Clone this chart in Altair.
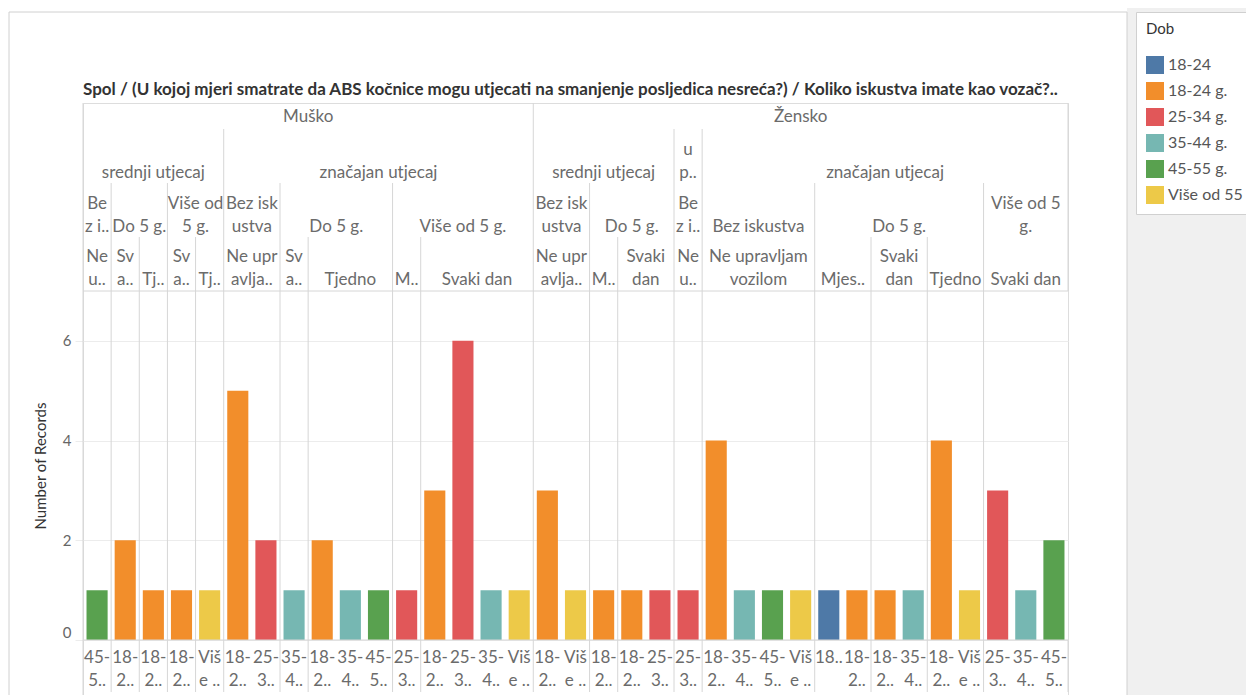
import altair as alt
import pandas as pd

# ---------------- data ----------------
SPOL = ["Muško"] * 16 + ["Žensko"] * 19
ABS = (["srednji utjecaj"] * 5 + ["značajan utjecaj"] * 11
       + ["srednji utjecaj"] * 5 + ["u potpunosti"] + ["značajan utjecaj"] * 13)
ISK = (["Bez iskustva", "Do 5 g.", "Do 5 g.", "Više od 5 g.", "Više od 5 g.",
        "Bez iskustva", "Bez iskustva", "Do 5 g.", "Do 5 g.", "Do 5 g.", "Do 5 g.",
        "Više od 5 g.", "Više od 5 g.", "Više od 5 g.", "Više od 5 g.", "Više od 5 g."]
       + ["Bez iskustva", "Bez iskustva", "Do 5 g.", "Do 5 g.", "Do 5 g.",
          "Bez iskustva",
          "Bez iskustva", "Bez iskustva", "Bez iskustva", "Bez iskustva",
          "Do 5 g.", "Do 5 g.", "Do 5 g.", "Do 5 g.", "Do 5 g.", "Do 5 g.",
          "Više od 5 g.", "Više od 5 g.", "Više od 5 g."])
FREQ = (["Ne upravljam vozilom", "Svaki dan", "Tjedno", "Svaki dan", "Tjedno",
         "Ne upravljam vozilom", "Ne upravljam vozilom", "Svaki dan",
         "Tjedno", "Tjedno", "Tjedno", "Mjesečno",
         "Svaki dan", "Svaki dan", "Svaki dan", "Svaki dan"]
        + ["Ne upravljam vozilom", "Ne upravljam vozilom", "Mjesečno", "Svaki dan", "Svaki dan",
           "Ne upravljam vozilom",
           "Ne upravljam vozilom", "Ne upravljam vozilom", "Ne upravljam vozilom", "Ne upravljam vozilom",
           "Mjesečno", "Mjesečno", "Svaki dan", "Svaki dan", "Tjedno", "Tjedno",
           "Svaki dan", "Svaki dan", "Svaki dan"])
DOB = (["45-55 g.", "18-24 g.", "18-24 g.", "18-24 g.", "Više od 55 g.",
        "18-24 g.", "25-34 g.", "35-44 g.", "18-24 g.", "35-44 g.", "45-55 g.",
        "25-34 g.", "18-24 g.", "25-34 g.", "35-44 g.", "Više od 55 g."]
       + ["18-24 g.", "Više od 55 g.", "18-24 g.", "18-24 g.", "25-34 g.",
          "25-34 g.",
          "18-24 g.", "35-44 g.", "45-55 g.", "Više od 55 g.",
          "18-24", "18-24 g.", "18-24 g.", "35-44 g.", "18-24 g.", "Više od 55 g.",
          "25-34 g.", "35-44 g.", "45-55 g."])
COUNT = ([1, 2, 1, 1, 1, 5, 2, 1, 2, 1, 1, 1, 3, 6, 1, 1]
         + [3, 1, 1, 1, 1, 1, 4, 1, 1, 1, 1, 1, 1, 1, 4, 1, 3, 1, 2])

DOB_ORDER = ["18-24", "18-24 g.", "25-34 g.", "35-44 g.", "45-55 g.", "Više od 55 g."]
DOB_COLORS = ["#4e79a7", "#f28e2b", "#e15759", "#76b7b2", "#59a14f", "#edc948"]

# header labels as displayed (wrapped / truncated like the reference)
L1_LABELS = ["Muško", "Žensko"]
L2_LABELS = ["srednji utjecaj", "značajan utjecaj", "srednji utjecaj", "u\np..", "značajan utjecaj"]
L3_LABELS = ["Be\nz i..", "Do 5 g.", "Više od\n5 g.", "Bez isk\nustva", "Do 5 g.", "Više od 5 g.",
             "Bez isk\nustva", "Do 5 g.", "Be\nz i..", "Bez iskustva", "Do 5 g.", "Više od 5\ng."]
L4_LABELS = ["Ne\nu..", "Sv\na..", "Tj..", "Sv\na..", "Tj..", "Ne upr\navlja..", "Sv\na..", "Tjedno",
             "M..", "Svaki dan", "Ne upr\navlja..", "M..", "Svaki\ndan", "Ne\nu..",
             "Ne upravljam\nvozilom", "Mjes..", "Svaki\ndan", "Tjedno", "Svaki dan"]
DOB_SHORT = {"18-24": "18..", "18-24 g.": "18-\n2..", "25-34 g.": "25-\n3..",
             "35-44 g.": "35-\n4..", "45-55 g.": "45-\n5..", "Više od 55 g.": "Viš\ne .."}

TITLE = ("Spol / (U kojoj mjeri smatrate da ABS kočnice mogu utjecati na smanjenje "
         "posljedica nesreća?) / Koliko iskustva imate kao vozač?..")

# ---------------- layout / style ----------------
FONT = "Lato"
HDR_SIZE = 17
HDR_COLOR = "#6b6b6b"
LINE_COLOR = "#d6d6d6"
LINE_H = 23
W, H = 985, 592
LEVEL_TEXT_Y = {1: 23, 2: 79, 3: 133, 4: 186}
LEVEL_LINE_Y = {1: 0, 2: 26, 3: 80, 4: 134}
HEADER_BOTTOM = 188
ZERO_Y = 537
LABEL_Y = 547

df = pd.DataFrame({"spol": SPOL, "abs": ABS, "isk": ISK, "freq": FREQ,
                   "dob": DOB, "count": COUNT})
df["idx"] = range(len(df))
df["short"] = df["dob"].map(DOB_SHORT)
N = len(df)

LEVEL_KEYS = {1: ["spol"], 2: ["spol", "abs"], 3: ["spol", "abs", "isk"],
              4: ["spol", "abs", "isk", "freq"]}
LEVEL_LABELS = {1: L1_LABELS, 2: L2_LABELS, 3: L3_LABELS, 4: L4_LABELS}

group_frames = []
boundary_level = {}
for lvl, keys in LEVEL_KEYS.items():
    key = df[keys].astype(str).agg("|".join, axis=1)
    run = (key != key.shift()).cumsum()
    g = df.groupby(run)["idx"].agg(["min", "max"]).reset_index(drop=True)
    g["start"] = g["min"]
    g["end"] = g["max"] + 1
    g["center"] = (g["start"] + g["end"]) / 2
    g["label"] = LEVEL_LABELS[lvl]
    g["nlines"] = g["label"].str.count("\n") + 1
    g["level"] = lvl
    group_frames.append(g[["start", "end", "center", "label", "nlines", "level"]])
    for s in g["start"]:
        if s > 0 and s not in boundary_level:
            boundary_level[s] = lvl
groups = pd.concat(group_frames, ignore_index=True)
bounds = pd.DataFrame({"b": list(boundary_level.keys()),
                       "level": list(boundary_level.values())})

x_scale = alt.Scale(domain=[0, N], nice=False, zero=False)
y_scale = alt.Scale(domain=[0, 7], range=[ZERO_Y, HEADER_BOTTOM], nice=False)
one = pd.DataFrame({"k": [0]})

layers = []

# background outside the worksheet + worksheet border
layers.append(alt.Chart(one).mark_rect(color="#f0f0f0").encode(
    x=alt.value(1044), x2=alt.value(1175), y=alt.value(-95), y2=alt.value(H)))
layers.append(alt.Chart(one).mark_rect(fillOpacity=0, stroke="#d0d0d0", strokeWidth=1).encode(
    x=alt.value(-74), x2=alt.value(1044), y=alt.value(-91), y2=alt.value(H + 20)))

# bars (with the y axis)
layers.append(
    alt.Chart(df).transform_calculate(
        x0="datum.idx + 0.125", x1="datum.idx + 0.875"
    ).mark_rect().encode(
        x=alt.X("x0:Q", scale=x_scale, axis=None),
        x2="x1:Q",
        y=alt.Y("count:Q", scale=y_scale, axis=alt.Axis(
            values=[0, 2, 4, 6], format="d", title="Number of Records", grid=True,
            gridColor="#ececec", domain=False, ticks=True, tickColor="#ececec",
            tickSize=8, labelFontSize=15, labelColor="#666666", labelPadding=4,
            labelFont=FONT, titleFont=FONT, titleFontSize=15, titleColor="#333333",
            titleFontWeight="normal", titlePadding=14,
            labelBaseline={"condition": {"test": "datum.value === 0", "value": "bottom"},
                           "value": "middle"})),
        y2=alt.datum(0),
        color=alt.Color("dob:N", scale=alt.Scale(domain=DOB_ORDER, range=DOB_COLORS),
                        legend=alt.Legend(title="Dob", orient="none", legendX=1053, legendY=-91,
                                          strokeColor="#d0d0d0", fillColor="white", padding=10,
                                          symbolType="square", symbolSize=324,
                                          symbolStrokeWidth=0, symbolOpacity=1,
                                          labelFontSize=16, labelColor="#555555", labelFont=FONT,
                                          titleFontSize=15, titleColor="#333333",
                                          titleFont=FONT, titleFontWeight="normal",
                                          titlePadding=19, rowPadding=8, labelLimit=200)),
        tooltip=["spol:N", "abs:N", "isk:N", "freq:N", "dob:N", "count:Q"],
    )
)

# separators per header level
for lvl in (1, 2, 3, 4):
    sub = bounds[bounds["level"] == lvl]
    if len(sub):
        layers.append(alt.Chart(sub).mark_rule(color=LINE_COLOR, strokeWidth=1).encode(
            x=alt.X("b:Q", scale=x_scale), y=alt.value(LEVEL_LINE_Y[lvl]), y2=alt.value(H - 3)))

edges = pd.DataFrame({"e": [0, N]})
layers.append(alt.Chart(edges.iloc[[0]]).mark_rule(color=LINE_COLOR).encode(
    x=alt.X("e:Q", scale=x_scale), y=alt.value(0), y2=alt.value(H)))
layers.append(alt.Chart(edges.iloc[[1]]).mark_rule(color=LINE_COLOR).encode(
    x=alt.X("e:Q", scale=x_scale), y=alt.value(0), y2=alt.value(HEADER_BOTTOM)))
layers.append(alt.Chart(edges.iloc[[1]]).mark_rule(color=LINE_COLOR).encode(
    x=alt.X("e:Q", scale=x_scale), y=alt.value(ZERO_Y), y2=alt.value(H - 3)))
# header bottom line and zero line
layers.append(alt.Chart(one).mark_rule(color=LINE_COLOR).encode(
    x=alt.datum(0, scale=x_scale), x2=alt.datum(N), y=alt.value(HEADER_BOTTOM)))
layers.append(alt.Chart(one).mark_rule(color=LINE_COLOR).encode(
    x=alt.datum(0, scale=x_scale), x2=alt.datum(N), y=alt.datum(0, scale=y_scale)))

# header texts (bottom aligned: multi-line labels start higher)
for lvl in (1, 2, 3, 4):
    for n in (1, 2):
        sub = groups[(groups["level"] == lvl) & (groups["nlines"] == n)]
        if not len(sub):
            continue
        layers.append(alt.Chart(sub).mark_text(
            baseline="bottom", align="center", lineBreak="\n", lineHeight=LINE_H,
            fontSize=HDR_SIZE, font=FONT, color=HDR_COLOR
        ).encode(x=alt.X("center:Q", scale=x_scale),
                 y=alt.value(LEVEL_TEXT_Y[lvl] - (n - 1) * LINE_H), text="label:N"))

# bottom category labels
layers.append(alt.Chart(df).transform_calculate(xc="datum.idx + 0.5").mark_text(
    baseline="top", align="center", lineBreak="\n", lineHeight=LINE_H,
    fontSize=HDR_SIZE, font=FONT, color=HDR_COLOR
).encode(x=alt.X("xc:Q", scale=x_scale), y=alt.value(LABEL_Y), text="short:N"))

# sheet title (header of the column fields)
layers.append(alt.Chart(one).mark_text(
    text=TITLE, align="left", baseline="alphabetic", fontSize=17, fontWeight="bold",
    font=FONT, color="#333333"
).encode(x=alt.datum(0, scale=x_scale), y=alt.value(-8)))

chart = alt.layer(*layers).properties(
    width=W, height=H,
    autosize=alt.AutoSizeParams(type="none"),
    padding={"left": 75, "top": 95, "right": 178, "bottom": 0},
).configure_view(stroke=None).configure(font=FONT, background="white")

chart.save("out.html", embed_options={"renderer": "svg", "actions": False})
